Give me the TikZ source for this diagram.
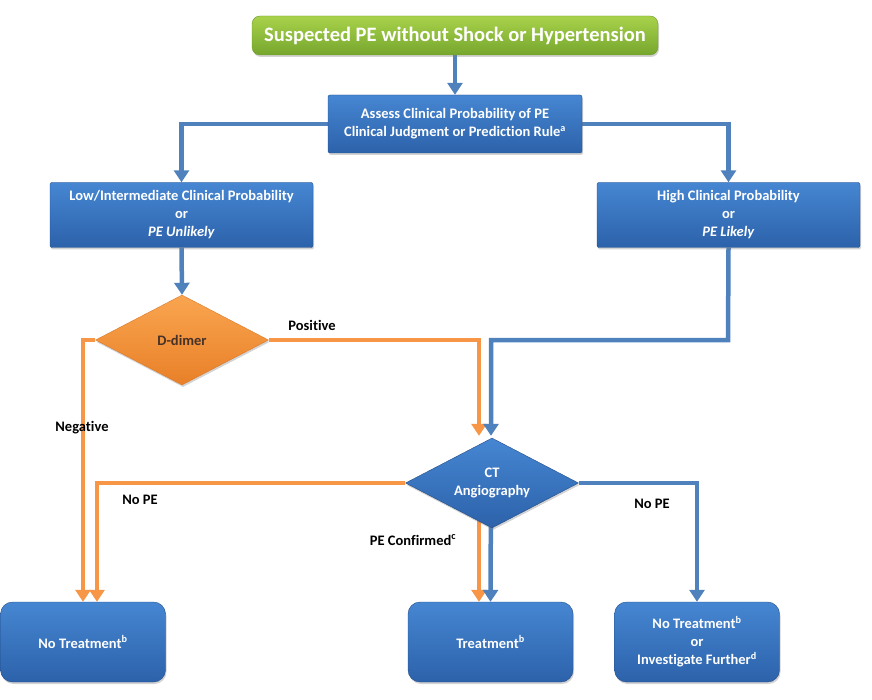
\documentclass[tikz,border=0pt]{standalone}
\usepackage{fontspec}
\setmainfont{Carlito}[Ligatures={NoCommon}]
\usetikzlibrary{shapes.geometric,arrows.meta,shadows,backgrounds,calc}
\definecolor{lineblue}{RGB}{79,129,189}
\definecolor{lineorange}{RGB}{247,150,70}
\definecolor{boxtop}{RGB}{70,134,210}
\definecolor{boxbot}{RGB}{44,98,170}
\tikzset{
  shadowed/.style={drop shadow={opacity=0.35,shadow xshift=1pt,shadow yshift=-2pt}},
  bluebox/.style={shadowed,top color=boxtop,bottom color=boxbot,draw=boxbot!80!black,line width=0.4pt,
    text=white,font=\bfseries\fontsize{14.5}{18}\selectfont,align=center,inner sep=0pt,rounded corners=2pt},
  endbox/.style={bluebox,rounded corners=12pt,minimum width=165pt,minimum height=80pt},
  greenbox/.style={shadowed,top color={rgb,255:red,168;green,210;blue,74},bottom color={rgb,255:red,118;green,166;blue,46},
    draw={rgb,255:red,110;green,155;blue,45},rounded corners=8pt,text=white,
    font=\bfseries\fontsize{20.5}{22}\selectfont,minimum width=406pt,minimum height=39pt,inner sep=0pt},
  dmd/.style={shape=diamond,shadowed,minimum width=173pt,minimum height=90pt,inner sep=0pt},
  dmdtext/.style={font=\bfseries\fontsize{14.5}{18}\selectfont,align=center,inner sep=0pt},
  orangedmd/.style={dmd,top color={rgb,255:red,250;green,165;blue,80},bottom color={rgb,255:red,232;green,128;blue,40},
    draw={rgb,255:red,220;green,120;blue,40}},
  bluedmd/.style={dmd,top color=boxtop,bottom color=boxbot,draw=boxbot!80!black},
  bl/.style={draw=lineblue,line width=4.5pt,-{Triangle[width=15pt,length=12pt]}},
  orl/.style={draw=lineorange,line width=4.5pt,-{Triangle[width=15pt,length=12pt]}},
  lbl/.style={font=\bfseries\fontsize{14.5}{16}\selectfont,text=black,inner sep=0pt}
}
\begin{document}
\begin{tikzpicture}[x=1pt,y=-1pt]
\useasboundingbox (0,0) rectangle (872,700);
\node[greenbox] (title) at (455,35.5) {Suspected PE without Shock or Hypertension};
\node[bluebox,minimum width=254pt,minimum height=58pt] (assess) at (455,124)
  {Assess Clinical Probability of PE\\Clinical Judgment or Prediction Rule\textsuperscript{a}};
\node[bluebox,minimum width=263pt,minimum height=65pt] (low) at (181.5,215)
  {Low/Intermediate Clinical Probability\\or\\\textit{PE Unlikely}};
\node[bluebox,minimum width=263pt,minimum height=65pt] (high) at (728.5,215)
  {High Clinical Probability\\or\\\textit{PE Likely}};
\node[orangedmd] (dd) at (182,340) {};
\node[dmdtext,text={rgb,255:red,70;green,50;blue,40}] (ddt) at (dd.center) {D-dimer};
\node[bluedmd] (ct) at (492,483) {};
\node[dmdtext,text=white] (ctt) at (ct.center) {CT\\Angiography};
\node[endbox] (nt) at (83,642) {No Treatment\textsuperscript{b}};
\node[endbox] (tr) at (490.5,642) {Treatment\textsuperscript{b}};
\node[endbox] (ng) at (697,642) {No Treatment\textsuperscript{b}\\or\\Investigate Further\textsuperscript{d}};
\node[lbl] (pos) at (312,325) {Positive};
\node[lbl] (neg) at (82,428) {Negative};
\node[lbl] (nope1) at (140,500) {No PE};
\node[lbl] (nope2) at (652,504) {No PE};
\node[lbl] (conf) at (413,540) {PE Confirmed\textsuperscript{c}};
\coordinate (hb) at (728,340);
\begin{scope}[on background layer]
\draw[bl] (title.south) -- (assess.north);
\draw[bl] (assess.west) -| (low.north);
\draw[bl] (assess.east) -| (high.north);
\draw[bl] (low.south) -- (dd.north);
\draw[orl] (dd.west) -| (nt.north);
\draw[orl] (dd.east) -| ([xshift=-13pt,yshift=2pt]ct.north);
\draw[bl] (high.south) -- (hb) -| ([xshift=-1pt,yshift=2pt]ct.north);
\draw[orl] (ct.west) -| ([xshift=14pt]nt.north);
\draw[bl] (ct.east) -| (ng.north);
\draw[orl] ([xshift=-13pt]ct.center) -- ([xshift=-11.5pt]tr.north);
\draw[bl] ([xshift=-1pt]ct.center) -- (tr.north);
\end{scope}
\end{tikzpicture}
\end{document}
